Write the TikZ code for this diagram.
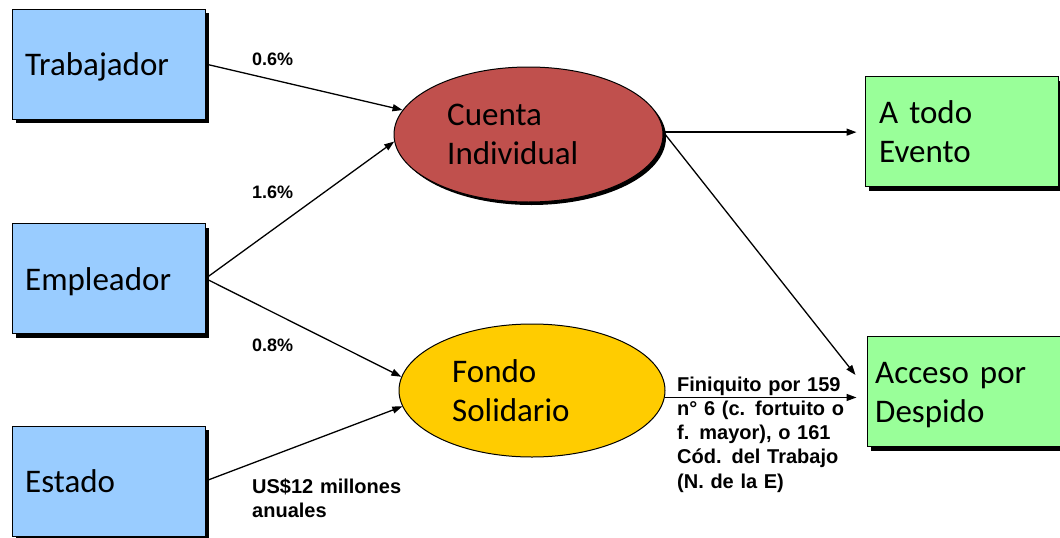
\documentclass[tikz,border=0pt]{standalone}
\usepackage{fontspec}
\newfontfamily\boxfont{Carlito}
\newfontfamily\labfont{Liberation Sans}
\usetikzlibrary{arrows.meta,shadows,shapes.geometric}
\definecolor{boxblue}{HTML}{99CCFF}
\definecolor{boxgreen}{HTML}{99FF99}
\definecolor{ellred}{HTML}{C0504D}
\definecolor{ellyellow}{HTML}{FFCC00}
\begin{document}
\begin{tikzpicture}[x=1pt,y=-1pt,
  boxbase/.style={draw=black,line width=1pt,rectangle,inner sep=0pt,
    minimum width=193pt,minimum height=110pt,
    drop shadow={shadow xshift=4pt,shadow yshift=-4pt,fill=black,opacity=1}},
  srcbox/.style={boxbase,fill=boxblue},
  dstbox/.style={boxbase,fill=boxgreen},
  ellbase/.style={ellipse,draw=black,line width=1pt,inner sep=0pt},
  boxtxt/.style={anchor=base west,inner sep=0pt,text width=180pt,align=left,
    font=\boxfont\fontsize{33}{39.5}\selectfont},
  pct/.style={anchor=base west,inner sep=0pt,font=\labfont\bfseries\fontsize{18}{22}\selectfont},
  lab/.style={anchor=base west,inner sep=0pt,text width=200pt,align=left,
    font=\labfont\bfseries\fontsize{20}{24.3}\selectfont},
  conn/.style={line width=1.3pt,-{Triangle[length=10pt,width=7pt]}}]
\useasboundingbox (0,0) rectangle (1060,538);
\fill[white] (0,0) rectangle (1060,538);

% boxes
\node[srcbox] (trab) at (108.5,64) {};
\node[srcbox] (emp) at (108.5,278.5) {};
\node[srcbox] (est) at (108.5,481) {};
\node[dstbox] (atodo) at (961.5,131.5) {};
\node[dstbox] (acceso) at (963.5,391.5) {};

% ellipses
\node[ellbase,fill=ellred,minimum width=269pt,minimum height=135pt,
  drop shadow={shadow xshift=3pt,shadow yshift=-3pt,fill=black,opacity=1}] (cuenta) at (528.5,134.5) {};
\node[ellbase,fill=ellyellow,minimum width=266pt,minimum height=133pt] (fondo) at (532,390.5) {};

% texts
\node[boxtxt] (ttrab) at (25,75) {Trabajador};
\node[boxtxt] (temp) at (25,290) {Empleador};
\node[boxtxt] (test) at (25,492) {Estado};
\node[boxtxt] (tcuenta) at (447,125) {Cuenta\\Individual};
\node[boxtxt] (tfondo) at (452,382) {Fondo\\Solidario};
\node[boxtxt] (tatodo) at (879,123) {A todo\\Evento};
\node[boxtxt] (tacceso) at (875,383) {Acceso por\\Despido};

% connector labels
\node[pct] (l06) at (252,65) {0.6\%};
\node[pct] (l16) at (252,198) {1.6\%};
\node[pct] (l08) at (252,351) {0.8\%};
\node[lab] (lus) at (252,493) {US\$12 millones\\anuales};
\node[lab] (lfin) at (677,391) {Finiquito por 159\\n° 6 (c. fortuito o\\f. mayor), o 161\\Cód. del Trabajo\\(N. de la E)};

% connectors
\draw[conn] (trab.east) -- (cuenta.169);
\draw[conn] (emp.east) -- (cuenta.183);
\draw[conn] (emp.east) -- (fondo.174);
\draw[conn] (est.east) -- (fondo.187);
\draw[conn] (cuenta.1) -- (cuenta.1 -| atodo.west) [shorten >=8pt];
\draw[conn,shorten >=0pt] (cuenta.1) -- ([xshift=-11pt,yshift=16.5pt]acceso.west);
\draw[conn,shorten >=10pt] (fondo.-3) -- (fondo.-3 -| acceso.west);
\end{tikzpicture}
\end{document}
